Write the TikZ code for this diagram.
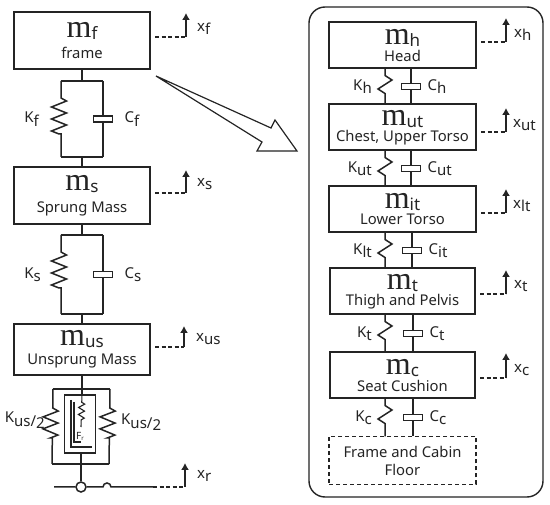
\documentclass[tikz,border=0pt]{standalone}
\usepackage{fontspec}
\setmainfont{Noto Sans}
\newfontfamily\massfont{Liberation Serif}
\usetikzlibrary{arrows.meta, positioning, decorations.pathmorphing}
\definecolor{ink}{gray}{0.14}
\newcommand{\massname}[2]{{\fontsize{32}{15}\massfont m}\raisebox{-2pt}{\fontsize{17}{15}\selectfont #1}\\[#2]}
\newcommand{\param}[2]{#1\raisebox{-3.5pt}{#2}}

\begin{document}
\begin{tikzpicture}[
  x=1pt, y=-1pt,
  massbox/.style={rectangle, draw=ink, line width=2pt, fill=white, inner sep=0pt, outer sep=0pt,
                  minimum width=136pt, align=center, text=ink, font=\fontsize{14.8}{15}\selectfont},
  headbox/.style={massbox, minimum width=147pt, minimum height=46pt},
  lowbox/.style={massbox, minimum width=145pt, minimum height=46pt},
  floorbox/.style={lowbox, dashed, dash pattern=on 4pt off 3pt, line width=1.6pt, minimum width=147pt, minimum height=48pt},
  link/.style={draw=ink, line width=1.5pt},
  bigspring/.style={link, decorate, decoration={zigzag, segment length=12pt, amplitude=7.5pt, raise=-2pt, pre length=17pt, post length=22pt}},
  smallspring/.style={link, decorate, decoration={zigzag, segment length=18pt, amplitude=7pt, pre length=7pt, post length=11pt}},
  dashpot/.style={rectangle, draw=ink, line width=1.4pt, fill=white, minimum width=19pt, minimum height=6pt, inner sep=0pt, outer sep=0pt},
  lbl/.style={text=ink, inner sep=0pt, font=\fontsize{15}{16}\selectfont},
  risedash/.style={draw=ink, line width=1.3pt, dash pattern=on 4pt off 2.5pt},
  rise/.style={-{Latex[length=7pt, width=8pt]}, draw=ink, line width=1.3pt}
]
  \useasboundingbox (0,0) rectangle (550,505);

  % left column
  \node[massbox, minimum height=57pt] at (82,40.5)  (mf)  {\massname{f}{6pt}frame};
  \node[massbox, minimum height=57pt, below=98pt of mf] (ms)  {\massname{s}{7pt}Sprung Mass};
  \node[massbox, minimum height=51pt, below=100pt of ms] (mus) {\massname{us}{4pt}Unsprung Mass};

  % frame to sprung mass
  \coordinate[below=12pt of mf] (ftop);
  \coordinate[above=10pt of ms] (fbot);
  \coordinate[left=21pt of ftop] (kftop);
  \coordinate[left=21pt of fbot] (kfbot);
  \coordinate[right=21pt of ftop] (cftop);
  \coordinate[right=21pt of fbot] (cfbot);
  \draw[link] (mf) -- (ftop) (fbot) -- (ms) (kftop) -- (cftop) (kfbot) -- (cfbot);
  \draw[bigspring] (kftop) -- (kfbot);
  \draw[link] (cftop) -- (cfbot) node[dashpot, pos=0.5] (cf) {};
  \node[lbl, left=22pt of kftop |- cf] (kflab) {\param{K}{f}};
  \node[lbl, right=12pt of cf] (cflab) {\param{C}{f}};

  % sprung to unsprung mass
  \coordinate[below=11pt of ms] (stop);
  \coordinate[above=10pt of mus] (sbot);
  \coordinate[left=21pt of stop] (kstop);
  \coordinate[left=21pt of sbot] (ksbot);
  \coordinate[right=21pt of stop] (cstop);
  \coordinate[right=21pt of sbot] (csbot);
  \draw[link] (ms) -- (stop) (sbot) -- (mus) (kstop) -- (cstop) (ksbot) -- (csbot);
  \draw[bigspring] (kstop) -- (ksbot);
  \draw[link] (cstop) -- (csbot) node[dashpot, pos=0.5] (cs) {};
  \node[lbl, left=20pt of kstop |- cs] (kslab) {\param{K}{s}};
  \node[lbl, right=12pt of cs] (cslab) {\param{C}{s}};

  % tyre
  \coordinate[below=14pt of mus] (utop);
  \coordinate (ubot) at (81,464);
  \coordinate[left=29pt of utop] (kultop);
  \coordinate[left=29pt of ubot] (kulbot);
  \coordinate[right=28pt of utop] (kurtop);
  \coordinate[right=28pt of ubot] (kurbot);
  \node[draw=ink, line width=1.4pt, fill=white, minimum width=31pt, minimum height=58pt, inner sep=0pt] at (80,424) (frbox) {};
  \node[circle, draw=ink, line width=1.5pt, fill=white, minimum size=10pt, inner sep=0pt] at (81,487) (wheel) {};
  \coordinate (roadl) at (54,487);
  \coordinate (roadm) at (103,487);
  \coordinate (roadr) at (153,487);
  \coordinate (footr) at (185,487);
  \coordinate (tipr) at (185,463);
  \draw[link] (mus) -- (utop) (kultop) -- (kurtop) (kulbot) -- (kurbot);
  \draw[link] (utop) -- (frbox.north -| utop) (frbox.south -| ubot) -- (wheel);
  \draw[bigspring, decoration={pre length=19pt, post length=22pt}] (kultop) -- (kulbot);
  \draw[bigspring, decoration={pre length=19pt, post length=22pt}] (kurtop) -- (kurbot);
  \draw[link] (roadl) -- (wheel) (wheel) -- (roadm) arc[start angle=180, end angle=0, radius=4pt] -- (roadr);
  \draw[risedash] (roadr) -- (footr);
  \draw[rise] (footr) -- (tipr);
  \draw[draw=ink, line width=1.1pt] (71,400) -- (71,447) -- (92,447);
  \draw[draw=ink, line width=1.1pt] (74,402) -- (74,442) -- (81,442);
  \draw[draw=ink, line width=1.1pt, decorate, decoration={zigzag, segment length=7pt, amplitude=3pt, pre length=8pt, post length=4pt}] (frbox.north -| utop) -- (81,427);
  \node[text=ink, inner sep=0pt, font=\fontsize{10}{12}\selectfont] at (80,436) (frlab) {F\raisebox{-1pt}{\fontsize{6}{7}\selectfont r}};
  \node[lbl, anchor=east] at (45,420) (kullab) {\param{K}{us\fontsize{15}{16}\selectfont/\raisebox{-2pt}{2}}};
  \node[lbl, anchor=west] at (121,422) (kurlab) {\param{K}{us\fontsize{15}{16}\selectfont/\raisebox{-2pt}{2}}};
  \node[lbl, anchor=west] at (197,476) (xrlab) {\param{x}{r}};

  % big arrow
  \draw[draw=ink, line width=1.2pt, line join=miter] (156,76) -- (271,128) -- (275,120) -- (297,151) -- (257,151) -- (262,142) -- cycle;

  % right panel
  \draw[draw=ink, line width=1.4pt, rounded corners=16pt] (309,7) rectangle (543,497);
  \node[headbox] at (402.5,45.5) (mh) {\massname{h}{2pt}Head};
  \node[headbox, below=36pt of mh] (mut) {\massname{ut}{1pt}Chest, Upper Torso};
  \node[headbox, below=36pt of mut] (mit) {\massname{it}{1pt}Lower Torso};
  \node[lowbox, below=36pt of mit] (mt) {\massname{t}{1pt}Thigh and Pelvis};
  \node[lowbox, below=38pt of mt] (mc) {\massname{c}{2pt}Seat Cushion};
  \node[floorbox, below=38pt of mc] (floor) {Frame and Cabin\\[3pt]Floor};

  \foreach \upper/\lower/\kn/\cn/\kx/\cx in {mh/mut/h/h/385/411, mut/mit/ut/ut/385/411, mit/mt/lt/it/385/412, mt/mc/t/t/385/413, mc/floor/c/c/385/413} {
    \draw[smallspring] (\upper.south -| \kx,0) -- (\lower.north -| \kx,0);
    \draw[link] (\upper.south -| \cx,0) -- (\lower.north -| \cx,0) node[dashpot, pos=0.5] (c\cn) {};
    \node[lbl, anchor=east] at (372,0 |- c\cn) (k\kn lab) {\param{K}{\kn}};
    \node[lbl, right=7pt of c\cn] (c\cn lab) {\param{C}{\cn}};
  }

  % displacement arrows
  \foreach \name/\sub/\xa/\ya/\tip/\lx/\ly in {mf/f/186/37/13/197/29, ms/s/186/193/170/197/184, mus/us/184/347/326/196/339,
      mh/h/506/42/18/514/35, mut/ut/506/132/108/513/125, mit/lt/506/213/189/513/206, mt/t/506/294/270/514/286, mc/c/506/378/353/514/370} {
    \coordinate (foot\name) at (\xa,\ya);
    \coordinate (tip\name) at (\xa,\tip);
    \coordinate (start\name) at ([xshift=5pt]\name.east |- foot\name);
    \draw[risedash] (start\name) -- (foot\name);
    \draw[rise] (foot\name) -- (tip\name);
    \node[lbl, anchor=west] at (\lx,\ly) (x\name lab) {\param{x}{\sub}};
  }
\end{tikzpicture}
\end{document}
